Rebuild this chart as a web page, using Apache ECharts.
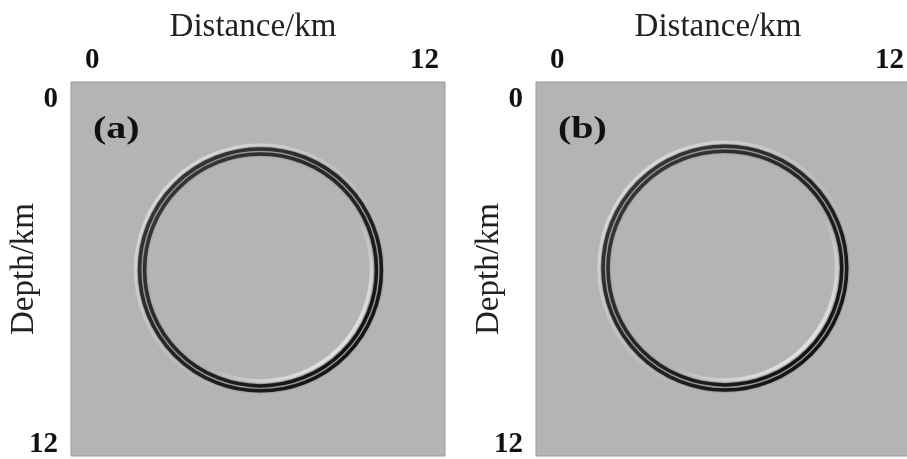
<!DOCTYPE html>
<html>
<head>
<meta charset="utf-8">
<script src="https://cdn.jsdelivr.net/npm/echarts@6/dist/echarts.min.js"></script>
<style>
  html, body { margin: 0; padding: 0; background: #ffffff; }
  #chart { width: 907px; height: 459px; }
</style>
</head>
<body>
<div id="chart"></div>
<script>
// Axis extents and tick labels (km)
const distanceRange = [0, 12];
const depthRange = [0, 12];
const panelLabels = ['(a)', '(b)'];

// Wavefront centres (distance, depth) in km
const centerA = [6.08, 6.03];
const centerB = [6.06, 5.97];

// Ring radii in km: outer halo, outer trough, inner trough, inner bright lobe
const ringRadiiA = [4.01, 3.88, 3.72, 3.56];
const ringRadiiB = [4.04, 3.91, 3.75, 3.59];
const ringKinds = ['halo', 'dark', 'dark', 'bright'];

const G = echarts.graphic;
const ringStyle = {
  halo: {
    width: 3,
    stroke: new G.LinearGradient(0, 0, 1, 1, [
      { offset: 0, color: 'rgba(235,235,235,0.9)' },
      { offset: 0.45, color: 'rgba(215,215,215,0.3)' },
      { offset: 0.7, color: 'rgba(200,200,200,0.0)' },
      { offset: 1, color: 'rgba(200,200,200,0.0)' }
    ]),
    blur: 2
  },
  dark: {
    width: 3.5,
    stroke: new G.LinearGradient(0, 0, 1, 1, [
      { offset: 0, color: '#3c3c3c' },
      { offset: 0.5, color: '#242424' },
      { offset: 1, color: '#0e0e0e' }
    ]),
    blur: 2
  },
  bright: {
    width: 3.5,
    stroke: new G.LinearGradient(0, 0, 1, 1, [
      { offset: 0, color: 'rgba(255,255,255,0)' },
      { offset: 0.6, color: 'rgba(255,255,255,0)' },
      { offset: 0.85, color: 'rgba(250,250,250,0.6)' },
      { offset: 1, color: 'rgba(255,255,255,1)' }
    ]),
    blur: 2
  }
};

function renderRing(params, api) {
  const c = api.coord([api.value(0), api.value(1)]);
  const r = api.size([api.value(2), 0])[0];
  const kind = ringKinds[api.value(3)];
  const st = ringStyle[kind];
  return {
    type: 'circle',
    shape: { cx: c[0], cy: c[1], r: r },
    style: {
      fill: 'transparent',
      stroke: st.stroke,
      lineWidth: st.width,
      shadowBlur: st.blur,
      shadowColor: kind === 'dark' ? 'rgba(30,30,30,0.5)' : 'rgba(240,240,240,0.3)'
    },
    z2: kind === 'dark' ? 2 : 1
  };
}

const serif = '"Liberation Serif", "DejaVu Serif", serif';
const tickFont = { fontFamily: serif, fontWeight: 'bold', fontSize: 29, color: '#111' };
const nameFont = { fontFamily: serif, fontWeight: 'normal', fontSize: 33, color: '#222' };

const grids = [
  { left: 71, top: 82, width: 374, height: 374 },
  { left: 536, top: 82, width: 374, height: 374 }
].map(g => Object.assign(g, {
  show: true, outerBoundsMode: 'none', containLabel: false,
  backgroundColor: '#b4b4b4', borderColor: '#9a9a9a', borderWidth: 1
}));

function xAxisFor(i) {
  return {
    gridIndex: i, type: 'value', position: 'top',
    min: distanceRange[0], max: distanceRange[1], interval: distanceRange[1] - distanceRange[0],
    name: 'Distance/km', nameLocation: 'middle', nameGap: 38, nameMoveOverlap: false,
    nameTextStyle: Object.assign({}, nameFont, { padding: [0, 10, 0, 0] }),
    axisLine: { show: false }, axisTick: { show: false }, splitLine: { show: false },
    axisLabel: Object.assign({}, tickFont, {
      margin: 7,
      alignMinLabel: 'left', alignMaxLabel: 'right',
      formatter: v => v === distanceRange[0]
        ? '{lo|' + v + '}' : '{hi|' + v + '}',
      rich: {
        lo: Object.assign({}, tickFont, { padding: [0, 0, 0, 14] }),
        hi: Object.assign({}, tickFont, { padding: [0, 6, 0, 0] })
      }
    })
  };
}

function yAxisFor(i) {
  return {
    gridIndex: i, type: 'value', inverse: true,
    min: depthRange[0], max: depthRange[1], interval: depthRange[1] - depthRange[0],
    name: 'Depth/km', nameLocation: 'middle', nameGap: 30, nameRotate: 90, nameMoveOverlap: false,
    nameTextStyle: nameFont,
    axisLine: { show: false }, axisTick: { show: false }, splitLine: { show: false },
    axisLabel: Object.assign({}, tickFont, {
      margin: 13,
      verticalAlignMinLabel: 'top', verticalAlignMaxLabel: 'bottom',
      formatter: v => v === depthRange[0]
        ? '{lo|' + v + '}' : '{hi|' + v + '}',
      rich: {
        lo: Object.assign({}, tickFont, { padding: [3, 0, 0, 0] }),
        hi: Object.assign({}, tickFont, { lineHeight: 22 })
      }
    })
  };
}

function ringData(center, radii) {
  return radii.map((r, k) => [center[0], center[1], r, k]);
}

const chart = echarts.init(document.getElementById('chart'), null, { renderer: 'canvas' });
chart.setOption({
  animation: false,
  backgroundColor: '#ffffff',
  grid: grids,
  xAxis: [xAxisFor(0), xAxisFor(1)],
  yAxis: [yAxisFor(0), yAxisFor(1)],
  series: [
    { type: 'custom', xAxisIndex: 0, yAxisIndex: 0, clip: true,
      renderItem: renderRing, data: ringData(centerA, ringRadiiA) },
    { type: 'custom', xAxisIndex: 1, yAxisIndex: 1, clip: true,
      renderItem: renderRing, data: ringData(centerB, ringRadiiB) }
  ],
  graphic: panelLabels.map((t, i) => ({
    type: 'text',
    x: grids[i].left + 22,
    y: 114,
    scaleX: 1.25,
    style: { text: t, font: 'bold 32px ' + serif, fill: '#111' }
  }))
});
</script>
</body>
</html>
